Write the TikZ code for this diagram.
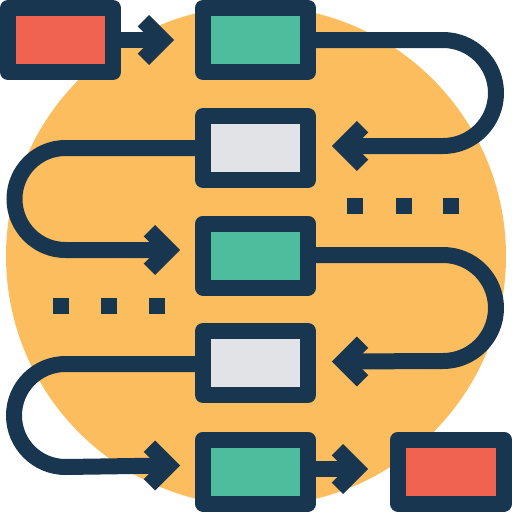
\documentclass[tikz,border=0pt]{standalone}
\usetikzlibrary{calc}
\definecolor{navy}{HTML}{193651}
\definecolor{sun}{HTML}{FBBD5E}
\definecolor{teal}{HTML}{4EBD9E}
\definecolor{pale}{HTML}{E1E3E6}
\definecolor{tomato}{HTML}{F06351}
\tikzset{
  box/.style={draw=navy, line width=16pt, line join=round, inner sep=0pt, outer sep=8pt,
    minimum width=105pt, minimum height=64pt},
  conn/.style={draw=navy, line width=16pt, line cap=butt},
  chev/.style={draw=navy, line width=16pt, line cap=butt, line join=miter},
  chevR/.pic={\draw[chev] (-30.6,-19.3) -- (-11.3,0) -- (-30.6,19.3);},
  chevL/.pic={\draw[chev] (30.6,-19.3) -- (11.3,0) -- (30.6,19.3);},
  dot/.style={fill=navy}
}
\begin{document}
\begin{tikzpicture}[x=1pt,y=-1pt]
\useasboundingbox (0,0) rectangle (512,512);
\fill[sun] (256,256) circle[radius=250];
% boxes
\node[box, fill=tomato] (r1) at (60.5,40) {};
\node[box, fill=teal] (g1) at (255.5,40) {};
\node[box, fill=pale] (w2) at (255.5,148) {};
\node[box, fill=teal] (g3) at (255.5,255.5) {};
\node[box, fill=pale] (w4) at (255.5,363) {};
\node[box, fill=teal] (g5) at (255.5,471.5) {};
\node[box, fill=tomato, minimum width=106pt] (r5) at (451,471.5) {};
% arrow tips
\coordinate (t1) at ($(g1.west)+(-21,0)$);
\coordinate (t2) at ($(w2.east)+(16,-2)$);
\coordinate (t3) at ($(g3.west)+(-15,-5.5)$);
\coordinate (t4) at ($(w4.east)+(16,-1.5)$);
\coordinate (t5) at ($(g5.west)+(-15,-6)$);
\coordinate (t6) at ($(r5.west)+(-22,-2.5)$);
% connectors
\draw[conn] (r1.east) -- ([xshift=-11.3pt]t1);
\pic at (t1) {chevR};
\draw[conn] (g1.east) -- (443,40) arc[start angle=-90, end angle=90, radius=53]
  -- ([xshift=11.3pt]t2);
\pic at (t2) {chevL};
\draw[conn] (w2.west) -- (65.5,148) arc[start angle=-90, end angle=-270, radius=51]
  -- ([xshift=-11.3pt]t3);
\pic at (t3) {chevR};
\draw[conn] ($(g3.east)+(0,-0.5)$) -- (443,255) arc[start angle=-90, end angle=90, radius=53]
  -- ([xshift=11.3pt]t4);
\pic at (t4) {chevL};
\draw[conn] ($(w4.west)+(0,1)$) -- (65.5,364) arc[start angle=-90, end angle=-270, radius=51.5]
  -- ([xshift=-11.3pt]t5);
\pic at (t5) {chevR};
\draw[conn] (g5.east |- t6) -- ([xshift=-11.3pt]t6);
\pic at (t6) {chevR};
% dots
\fill[dot] (347,198) rectangle ++(16,16);
\fill[dot] (396,198) rectangle ++(16,16);
\fill[dot] (443,198) rectangle ++(16,16);
\fill[dot] (53,298) rectangle ++(16,16);
\fill[dot] (101,298) rectangle ++(16,16);
\fill[dot] (149,298) rectangle ++(16,16);
\end{tikzpicture}
\end{document}
